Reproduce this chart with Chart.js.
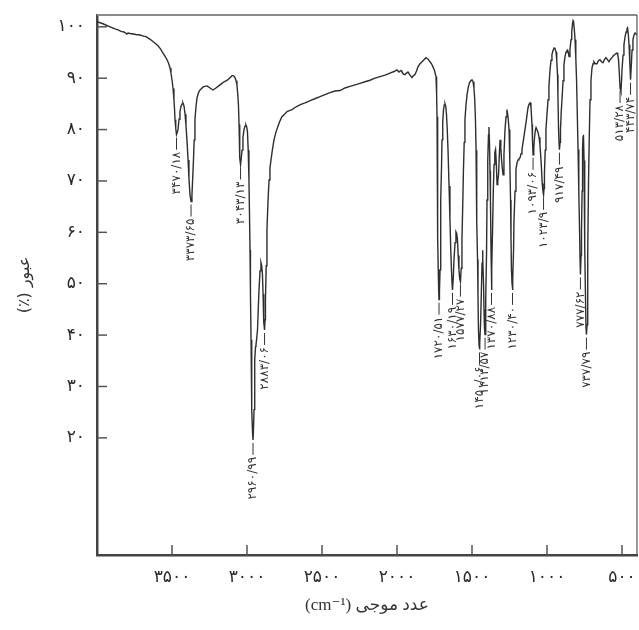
<!DOCTYPE html>
<html>
<head>
<meta charset="utf-8">
<script src="https://cdn.jsdelivr.net/npm/chart.js@4.4.0/dist/chart.umd.min.js"></script>
<style>
html,body{margin:0;padding:0;background:#fff;}
</style>
</head>
<body>
<canvas id="grafica" width="639" height="630"></canvas>
<script>
// espectro IR: numero de onda (cm-1) y transmitancia (%)
var numeroOnda=[4000,3960,3913,3880,3860,3840,3820,3800,3793,3780,3760,3740,3713,3690,3673,3653,3633,3613,3593,3577,3560,3547,3533,3523,3513,3507,3500,3493,3487,3483,3480,3475,3470,3465,3460,3453,3447,3440,3433,3427,3420,3413,3407,3400,3393,3387,3380,3373,3367,3362,3357,3352,3347,3340,3333,3323,3313,3303,3293,3280,3267,3257,3247,3237,3227,3217,3207,3193,3180,3167,3153,3140,3127,3117,3107,3100,3093,3087,3080,3073,3067,3062,3057,3053,3050,3047,3043,3038,3033,3027,3020,3013,3007,3002,2997,2992,2987,2983,2980,2977,2973,2970,2967,2963,2960,2957,2953,2950,2947,2943,2940,2935,2930,2925,2920,2913,2907,2902,2897,2893,2890,2887,2883,2880,2877,2872,2867,2860,2853,2847,2840,2830,2820,2807,2793,2780,2767,2750,2733,2717,2700,2680,2660,2640,2613,2590,2567,2540,2513,2480,2447,2413,2380,2347,2313,2280,2247,2213,2180,2147,2113,2080,2047,2020,2000,1987,1973,1967,1957,1947,1937,1927,1913,1900,1890,1880,1870,1860,1847,1833,1820,1807,1793,1780,1770,1760,1750,1740,1736,1733,1731,1729,1727,1725,1722,1720,1717,1713,1710,1707,1703,1700,1695,1690,1685,1680,1675,1670,1665,1660,1653,1647,1642,1637,1633,1630,1625,1620,1613,1607,1602,1597,1592,1587,1582,1577,1572,1567,1562,1557,1552,1547,1540,1533,1525,1517,1508,1500,1493,1487,1482,1477,1473,1470,1467,1463,1460,1457,1453,1450,1447,1443,1438,1433,1430,1427,1423,1420,1417,1413,1410,1407,1403,1400,1395,1390,1387,1383,1380,1377,1373,1370,1367,1363,1358,1353,1348,1343,1338,1333,1328,1323,1318,1313,1308,1303,1298,1293,1287,1280,1273,1267,1260,1253,1248,1243,1240,1237,1233,1230,1227,1223,1220,1213,1207,1200,1193,1187,1180,1173,1167,1157,1147,1137,1127,1120,1113,1107,1100,1097,1093,1088,1083,1077,1073,1067,1060,1053,1047,1042,1037,1032,1027,1023,1020,1017,1012,1007,1000,993,987,980,973,967,960,953,947,940,935,930,927,923,920,917,913,910,905,900,893,887,880,873,867,863,858,853,847,840,835,830,826,823,818,813,808,803,798,793,788,783,780,777,773,770,766,763,760,757,753,750,747,743,740,737,733,730,727,723,718,713,707,700,693,687,677,667,657,647,637,627,617,607,597,587,577,567,557,547,540,533,528,523,518,513,507,503,500,493,487,480,473,467,463,458,453,448,443,438,433,427,420,413,407,400];
var transmitancia=[101.0,100.6,100.0,99.6,99.4,99.1,99.0,98.6,98.8,98.7,98.6,98.5,98.4,98.2,98.1,97.7,97.3,96.8,96.3,95.7,94.9,94.3,93.6,92.9,92.0,91.0,89.7,88.0,85.8,83.9,81.9,80.2,79.0,79.4,80.0,82.0,83.5,84.5,85.0,85.2,84.6,83.0,80.9,77.8,74.1,70.5,67.3,66.0,67.3,70.5,74.0,78.0,81.9,84.5,86.2,87.2,87.7,88.0,88.3,88.4,88.5,88.3,88.1,87.9,87.7,87.9,88.1,88.4,88.7,89.0,89.3,89.5,89.7,90.0,90.3,90.5,90.5,90.4,90.1,89.5,88.7,87.0,84.8,81.0,77.0,74.5,73.2,74.5,76.0,78.5,80.0,80.7,80.9,80.5,79.6,76.0,70.2,63.0,56.6,48.0,39.1,31.5,25.5,21.0,19.6,21.5,25.5,30.5,35.2,37.8,38.1,39.5,41.0,45.0,48.8,52.5,54.1,53.5,51.8,48.0,44.9,42.5,41.0,43.0,46.9,53.5,60.5,66.0,70.2,72.5,74.1,76.2,78.0,79.5,80.7,81.7,82.5,83.0,83.5,83.7,83.9,84.3,84.6,84.9,85.2,85.5,85.8,86.1,86.4,86.8,87.2,87.5,87.6,88.1,88.4,88.7,89.0,89.3,89.6,90.0,90.3,90.6,91.0,91.3,91.6,91.2,91.5,91.2,90.8,90.7,91.0,91.2,90.6,90.1,90.5,90.7,91.4,92.2,92.8,93.2,93.6,94.0,93.7,93.2,92.8,92.2,91.5,90.3,87.0,82.5,75.0,66.3,59.0,52.7,48.5,46.9,48.5,52.7,59.5,66.3,73.0,78.0,81.5,83.9,84.8,85.0,84.5,82.9,80.0,76.1,69.0,62.5,57.0,52.7,50.0,48.8,51.0,54.7,58.0,60.1,59.8,58.6,55.5,52.7,51.0,50.4,53.0,58.6,65.0,72.2,77.5,81.9,84.8,86.8,88.2,89.1,89.5,89.7,89.3,88.1,86.0,81.9,76.0,70.2,62.0,54.7,47.5,41.0,38.0,37.2,38.5,42.0,48.0,54.0,56.5,55.0,50.0,45.0,41.5,40.1,42.0,47.0,56.0,66.3,74.0,79.0,80.5,77.0,72.0,66.3,56.0,48.8,53.0,60.5,68.0,73.2,75.5,76.1,73.5,69.3,70.0,71.2,75.0,78.0,76.5,74.1,72.5,71.2,75.0,80.0,82.5,83.9,82.5,80.0,74.0,66.3,59.0,52.7,50.0,48.8,51.0,56.5,62.5,68.0,72.2,73.5,74.1,74.3,74.5,75.3,76.1,78.0,80.0,82.0,84.2,84.9,85.2,84.5,81.0,78.0,75.1,76.5,78.5,80.0,80.4,80.4,79.5,78.5,77.0,75.0,72.5,69.5,68.0,67.3,68.5,71.5,76.0,80.0,83.0,85.8,88.5,91.6,93.5,94.6,95.4,95.9,95.8,95.1,93.5,90.7,86.5,80.0,77.5,76.1,77.5,80.0,83.5,85.8,89.5,92.6,94.2,95.1,95.4,95.5,95.0,94.2,95.5,97.5,99.0,100.6,101.2,101.0,99.5,97.5,94.0,89.7,83.0,76.1,68.0,60.5,55.0,51.8,55.5,60.5,68.0,76.1,78.5,79.0,74.0,66.3,57.0,46.9,41.5,40.1,42.0,46.9,56.0,70.2,79.0,85.8,89.5,92.0,92.8,93.2,92.8,92.8,93.4,93.6,93.2,93.0,93.6,94.0,93.6,93.2,93.7,94.0,94.4,94.6,94.8,94.9,94.5,93.6,91.0,88.1,87.4,89.5,91.6,94.5,96.5,98.0,99.0,99.6,99.8,98.5,96.5,93.0,89.7,92.5,95.5,97.5,98.4,98.8,98.8,98.4];

var ticksX=[3500,3000,2500,2000,1500,1000,500];
var ticksY=[20,30,40,50,60,70,80,90,100];

// picos marcados
var picosOnda=[3470,3373,3043,2960,2883,1720,1630,1577,1450,1413,1370,1230,1093,1023,917,777,737,513,443];
var picosTexto=['۳۴۷۰/۱۸','۳۳۷۳/۶۵','۳۰۴۳/۱۳','۲۹۶۰/۹۹','۲۸۸۳/۰۶','۱۷۲۰/۵۱','۱۶۳۰/۱۹','۱۵۷۷/۲۷','۱۴۵۰/۰۶','۱۴۱۳/۵۷','۱۳۷۰/۸۸','۱۲۳۰/۴۰','۱۰۹۳/۰۶','۱۰۲۳/۹','۹۱۷/۴۹','۷۷۷/۶۲','۷۳۷/۷۹','۵۱۳/۲۸','۴۴۳/۷۴'];

var tituloX='(cm⁻¹) عدد موجی';
var tituloY='(٪) عبور';

function aPersa(v){
	return String(v).replace(/[0-9]/g,function(d){return '۰۱۲۳۴۵۶۷۸۹'[d];});
}

var puntos=new Array();
for(var i=0;i<numeroOnda.length;i++){
	puntos.push({x:numeroOnda[i],y:transmitancia[i]});
}

var marco={
	id:'marco',
	afterDraw:function(chart){
		var ctx=chart.ctx, a=chart.chartArea, sx=chart.scales.x, sy=chart.scales.y;
		ctx.save();
		ctx.strokeStyle='#8a8a8a'; ctx.lineWidth=2;
		ctx.beginPath(); ctx.moveTo(a.left,a.top); ctx.lineTo(a.right,a.top); ctx.stroke();
		ctx.strokeStyle='#555'; ctx.lineWidth=1.2;
		ctx.beginPath(); ctx.moveTo(a.right,a.top); ctx.lineTo(a.right,a.bottom); ctx.stroke();
		// marcas hacia dentro
		ctx.strokeStyle='#555'; ctx.lineWidth=1.5;
		ticksY.forEach(function(v){
			var py=sy.getPixelForValue(v);
			ctx.beginPath(); ctx.moveTo(a.left,py); ctx.lineTo(a.left+10,py); ctx.stroke();
		});
		ticksX.forEach(function(v){
			var px=sx.getPixelForValue(v);
			ctx.beginPath(); ctx.moveTo(px,a.bottom); ctx.lineTo(px,a.bottom-10); ctx.stroke();
		});
		ctx.restore();
	}
};

var etiquetasPicos={
	id:'etiquetasPicos',
	afterDatasetsDraw:function(chart){
		var ctx=chart.ctx, sx=chart.scales.x, sy=chart.scales.y;
		ctx.save();
		ctx.fillStyle='#333'; ctx.strokeStyle='#333'; ctx.lineWidth=1;
		ctx.font='12px "DejaVu Sans"';
		for(var i=0;i<picosOnda.length;i++){
			var idx=numeroOnda.indexOf(picosOnda[i]);
			var px=sx.getPixelForValue(picosOnda[i]);
			var py=sy.getPixelForValue(transmitancia[idx]);
			ctx.beginPath(); ctx.moveTo(px,py+3); ctx.lineTo(px,py+15); ctx.stroke();
			ctx.save();
			ctx.translate(px,py+17);
			ctx.rotate(-Math.PI/2);
			ctx.textAlign='right'; ctx.textBaseline='middle';
			ctx.fillText(picosTexto[i],0,0);
			ctx.restore();
		}
		ctx.restore();
	}
};

var config={
	type:'scatter',
	data:{
		datasets:[{
			data:puntos,
			showLine:true,
			borderColor:'#2e2e2e',
			borderWidth:1.4,
			pointRadius:0,
			tension:0
		}]
	},
	options:{
		responsive:false,
		animation:false,
		layout:{padding:{top:15,right:2,left:0,bottom:0}},
		plugins:{legend:{display:false},tooltip:{enabled:false}},
		scales:{
			x:{
				type:'linear',reverse:true,min:400,max:4000,
				afterBuildTicks:function(s){ s.ticks=ticksX.map(function(v){return {value:v};}); },
				afterFit:function(s){ s.height=75; s.paddingLeft=0; s.paddingRight=0; },
				grid:{display:false,drawTicks:false},
				border:{display:true,color:'#444',width:2.5},
				ticks:{callback:function(v){return aPersa(v);},color:'#2a2a2a',font:{family:'DejaVu Sans',size:17},padding:12,maxRotation:0,autoSkip:false},
				title:{display:true,text:tituloX,color:'#333',font:{family:"'Liberation Serif','DejaVu Sans'",size:17},padding:{top:0,bottom:14}}
			},
			y:{
				min:-2.8,max:102.3,
				afterBuildTicks:function(s){ s.ticks=ticksY.map(function(v){return {value:v};}); },
				afterFit:function(s){ s.width=97; s.paddingTop=0; s.paddingBottom=0; },
				grid:{display:false,drawTicks:false},
				border:{display:true,color:'#444',width:2.5},
				ticks:{callback:function(v){return aPersa(v);},color:'#2a2a2a',font:{family:'DejaVu Sans',size:17},padding:12,autoSkip:false},
				title:{display:true,text:tituloY,color:'#333',font:{family:'DejaVu Sans',size:16},padding:{top:15,bottom:15}}
			}
		}
	},
	plugins:[marco,etiquetasPicos]
};

var canvas=document.getElementById('grafica').getContext('2d');
new Chart(canvas,config);
</script>
</body>
</html>
